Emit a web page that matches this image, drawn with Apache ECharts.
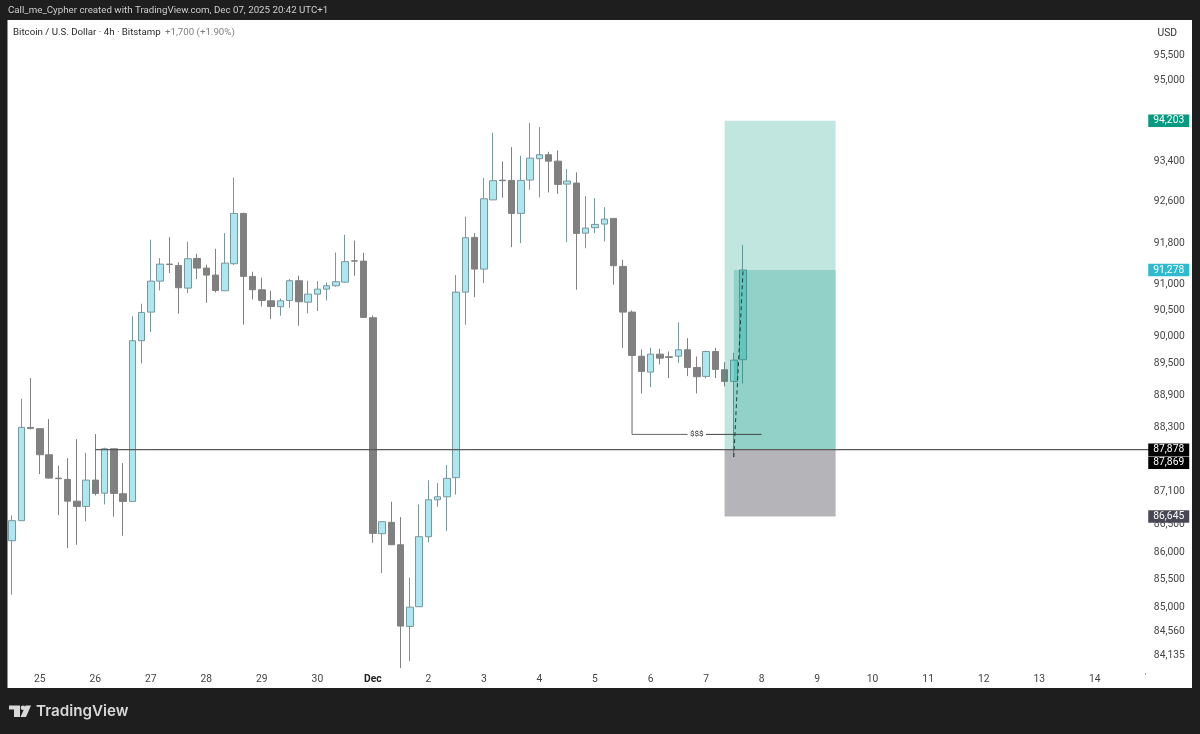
<!DOCTYPE html>
<html><head><meta charset="utf-8">
<style>html,body{margin:0;padding:0;background:#1e1e1e}#c{width:1200px;height:734px}</style>
<script src="https://cdn.jsdelivr.net/npm/echarts@6/dist/echarts.min.js"></script>
</head><body><div id="c"></div>
<script>
const opens=[86204,86570,88293,88269,87784,87352,87328,86928,86831,87315,87075,87895,87064,86922,89924,90469,91063,91391,91366,90929,91501,91314,91179,90878,91399,92375,91154,90897,90686,90572,90692,91071,90659,90813,90909,90974,91044,91455,91449,90362,86332,86539,86131,84658,85011,86277,86953,87008,87360,90852,91908,91295,92640,93026,93022,92375,93028,93449,93527,93401,92949,92969,91991,92097,92167,92278,91347,90469,89631,89330,89669,89620,89631,89752,89418,89249,89720,89375,89155,89564];
const closes=[86570,88293,88274,87784,87352,87341,86928,86831,87315,87070,87895,87070,86922,89924,90463,91063,91391,91385,90936,91495,91314,91179,90884,91410,92375,91154,90897,90692,90577,90686,91071,90667,90813,90909,90974,91052,91438,91449,90368,86338,86551,86131,84664,85003,86277,86953,87008,87347,90852,91902,91295,92661,93016,93016,92375,93022,93460,93527,93401,92943,93008,91986,92089,92161,92264,91360,90469,89645,89343,89669,89594,89607,89752,89418,89243,89720,89381,89155,89556,91278];
const highs=[86666,88829,89217,88274,88448,87581,87721,88074,87821,88168,87914,87895,87629,90387,90629,91863,91506,91914,91429,91824,91591,91379,91688,91991,93075,92388,91245,91129,90878,90730,91102,91167,91071,91063,91038,91616,91960,91849,91610,90406,86551,86917,86635,85533,86867,87310,87260,87592,91179,92311,91991,93067,93963,93396,93678,93508,94154,94075,93586,93612,93244,93179,92713,92673,92497,92278,91476,90501,89758,89790,89771,89720,90272,89973,89626,89733,89790,89518,89695,91758];
const lows=[85226,86570,88255,87426,87341,86672,86069,86131,86557,87033,86867,86643,86295,86922,89494,90088,90884,91217,90438,90831,91102,90648,90845,90878,91372,90229,90711,90577,90335,90400,90553,90210,90444,90488,90692,90955,91033,91168,90362,86168,85616,86131,83915,84039,85011,86177,86825,86380,87047,90229,90755,91025,92640,92681,91719,91797,92836,92687,92785,92758,91816,90897,91699,91991,91830,90994,89790,89645,88929,89047,89475,89217,89499,89254,88929,89211,89217,89060,87740,89111];

const dayLabels=['25','26','27','28','29','30','Dec','2','3','4','5','6','7','8','9','10','11','12','13','14'];
const priceTicks=[95500,95000,93400,92600,91800,91000,90500,90000,89500,88900,88300,87100,86500,86000,85500,85000,84560,84135];

const targetPrice=94203, lastPrice=91278, entryPrice=87878, markPrice=87869, stopPrice=86645;
const tagPrices=[targetPrice,lastPrice,entryPrice,markPrice,stopPrice];
const tagColors=['#089981','#2EBBD0','#000000','#000000','#484855'];
const tagShift=[0,0,0,12.5,0];

const sweepDrop=[89645,88162];
const sweepLevel=88162;
const moveLow=87740;

const SLOTS=124;
const categories=[];
for(let i=0;i<SLOTS;i++){categories.push((i-3)%6===0&&dayLabels[(i-3)/6]?dayLabels[(i-3)/6]:'');}
const candleData=opens.map((o,i)=>[o,closes[i],lows[i],highs[i]]);

const font='Roboto, "Noto Sans", sans-serif';
const logoFont='Inter, "Noto Sans", sans-serif';
const chart=echarts.init(document.getElementById('c'),null,{renderer:'canvas'});
chart.setOption({
  animation:false,
  backgroundColor:'#1e1e1e',
  textStyle:{fontFamily:font},
  grid:{left:7.37,top:24.5,width:1147.5,height:646,containLabel:false},
  xAxis:{type:'category',data:categories,boundaryGap:true,
    axisLine:{show:false},axisTick:{show:false},splitLine:{show:false},
    axisLabel:{interval:0,margin:4,fontSize:10.3,color:'#444',fontFamily:font,hideOverlap:false,
      formatter:v=>v==='Dec'?'{b|Dec}':v,rich:{b:{fontWeight:700,fontSize:10.3,color:'#222',fontFamily:font}}}},
  yAxis:{type:'log',position:'right',min:83873,max:96136,logBase:10,
    axisLine:{show:false},axisTick:{show:false},splitLine:{show:false},minorTick:{show:false},minorSplitLine:{show:false},
    axisLabel:{customValues:priceTicks,margin:-1,padding:[2,0,0,0],fontSize:10.3,color:'#444',fontFamily:font,align:'left',showMinLabel:true,showMaxLabel:true,
      formatter:v=>Math.round(v).toLocaleString('en-US')}},
  graphic:[
    {type:'rect',z:-10,silent:true,shape:{x:7.5,y:20,width:1184.5,height:668},style:{fill:'#ffffff'}},
    {type:'text',z:10,x:8,y:6,style:{text:'Call_me_Cypher created with TradingView.com, Dec 07, 2025 20:42 UTC+1',fill:'#cfcfcf',font:'9.72px '+font}},
    {type:'text',z:10,x:13,y:27.7,style:{text:'Bitcoin / U.S. Dollar · 4h · Bitstamp',fill:'#2a2a2a',font:'9.7px '+font}},
    {type:'text',z:10,x:165,y:27.7,style:{text:'+1,700 (+1.90%)',fill:'#7f7f7f',font:'9.7px '+font}},
    {type:'text',z:10,x:1157.5,y:28.5,style:{text:'USD',fill:'#333',font:'10.3px '+font}},
    {type:'text',z:10,x:1145,y:672,style:{text:"'",fill:'#555',font:'8px '+font}},
    {type:'polygon',z:10,shape:{points:[[9,705.5],[20,705.5],[20,717],[14,717],[14,709.5],[9,709.5]]},style:{fill:'#d8d8d8'}},
    {type:'circle',z:10,shape:{cx:23,cy:707.8,r:2.3},style:{fill:'#d8d8d8'}},
    {type:'polygon',z:10,shape:{points:[[25.5,705.5],[31,705.5],[26,717],[20.5,717]]},style:{fill:'#d8d8d8'}},
    {type:'text',z:10,x:36,y:703.5,style:{text:'TradingView',fill:'#d8d8d8',font:'600 15.2px '+logoFont}}
  ],
  series:[
    {type:'candlestick',name:'BTCUSD',data:candleData,barWidth:7,z:2,
      itemStyle:{color:'#ADE8F2',color0:'#808080',borderColor:'#78979C',borderColor0:'#808080',borderWidth:1}},
    {type:'line',name:'zones',data:[],z:5,silent:true,
      markArea:{z:5,silent:true,data:[
        [{coord:[77,targetPrice],itemStyle:{color:'rgba(8,153,129,0.25)'}},{coord:[89,entryPrice]}],
        [{coord:[78,lastPrice],itemStyle:{color:'rgba(8,153,129,0.25)'}},{coord:[89,entryPrice]}],
        [{coord:[77,entryPrice],itemStyle:{color:'rgba(70,68,80,0.4)'}},{coord:[89,stopPrice]}]
      ]}},
    {type:'line',name:'entry',data:[[9,entryPrice],[123,entryPrice]],z:6,symbol:'none',lineStyle:{color:'#5a5a5a',width:1.2}},
    {type:'line',name:'move',data:[[78,moveLow],[79,lastPrice]],z:7,symbol:'none',lineStyle:{color:'#17423c',width:1,type:[4,3]}},
    {type:'line',name:'sweepA',data:[[67,sweepDrop[0]],[67,sweepDrop[1]],[73,sweepLevel]],z:6,symbol:'none',lineStyle:{color:'#666',width:1}},
    {type:'line',name:'sweepB',data:[[75,sweepLevel],[81,sweepLevel]],z:6,symbol:'none',lineStyle:{color:'#444',width:1}},
    {type:'scatter',name:'sweepText',data:[[74,sweepLevel]],symbolSize:1,z:7,itemStyle:{color:'transparent',opacity:1},
      label:{show:true,position:'inside',formatter:'$$$',fontSize:8,color:'#222',fontFamily:font}},
    {type:'scatter',name:'tags',clip:false,z:20,symbolSize:1,itemStyle:{color:'transparent',opacity:1},
      data:tagPrices.map((p,i)=>({value:[123,p],label:{show:true,position:'right',distance:0,offset:[18,tagShift[i]],opacity:1,
        formatter:p.toLocaleString('en-US'),backgroundColor:tagColors[i],color:'#fff',fontSize:10.3,fontFamily:font,
        width:41,height:12.5,lineHeight:12.5,align:'center',verticalAlign:'middle'}}))}
  ]
});
</script></body></html>
